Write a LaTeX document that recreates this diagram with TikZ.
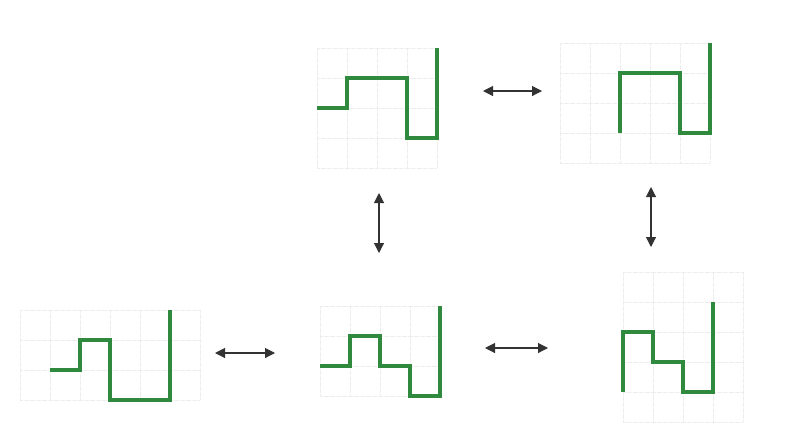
\documentclass[tikz,border=0pt]{standalone}
\usepackage{tikz}
\usetikzlibrary{arrows.meta}
\definecolor{walkgreen}{RGB}{48,138,62}

\begin{document}
\begin{tikzpicture}[x=1pt,y=-1pt,
  walk/.style={walkgreen,line width=4pt,line join=miter,line cap=butt},
  faintgrid/.style={gray!14,very thin,densely dotted},
  swapline/.style={{Triangle[width=10pt,length=10pt]}-{Triangle[width=10pt,length=10pt]},line width=1.1pt,black!80}]
  \useasboundingbox (0,0) rectangle (792,432);

  % Top middle walk
  \begin{scope}[shift={(317,108)},x=30pt,y=-30pt]
    \foreach \gx in {0,...,4} \draw[faintgrid] (\gx,-2) -- (\gx,2);
    \foreach \gy in {-2,...,2} \draw[faintgrid] (0,\gy) -- (4,\gy);
    \draw[walk] (0,0) -- ++(1,0) -- ++(0,-1) -- ++(2,0) -- ++(0,2) -- ++(1,0) -- ++(0,-3);
  \end{scope}

  % Top right walk
  \begin{scope}[shift={(620,133)},x=30pt,y=-30pt]
    \foreach \gx in {-2,...,3} \draw[faintgrid] (\gx,-3) -- (\gx,1);
    \foreach \gy in {-3,...,1} \draw[faintgrid] (-2,\gy) -- (3,\gy);
    \draw[walk] (0,0) -- ++(0,-2) -- ++(2,0) -- ++(0,2) -- ++(1,0) -- ++(0,-3);
  \end{scope}

  % Bottom left walk
  \begin{scope}[shift={(50,370)},x=30pt,y=-30pt]
    \foreach \gx in {-1,...,5} \draw[faintgrid] (\gx,-2) -- (\gx,1);
    \foreach \gy in {-2,...,1} \draw[faintgrid] (-1,\gy) -- (5,\gy);
    \draw[walk] (0,0) -- ++(1,0) -- ++(0,-1) -- ++(1,0) -- ++(0,2) -- ++(2,0) -- ++(0,-3);
  \end{scope}

  % Bottom middle walk
  \begin{scope}[shift={(320,366)},x=30pt,y=-30pt]
    \foreach \gx in {0,...,4} \draw[faintgrid] (\gx,-2) -- (\gx,1);
    \foreach \gy in {-2,...,1} \draw[faintgrid] (0,\gy) -- (4,\gy);
    \draw[walk] (0,0) -- ++(1,0) -- ++(0,-1) -- ++(1,0) -- ++(0,1) -- ++(1,0) -- ++(0,1) -- ++(1,0) -- ++(0,-3);
  \end{scope}

  % Bottom right walk
  \begin{scope}[shift={(623,392)},x=30pt,y=-30pt]
    \foreach \gx in {0,...,4} \draw[faintgrid] (\gx,-4) -- (\gx,1);
    \foreach \gy in {-4,...,1} \draw[faintgrid] (0,\gy) -- (4,\gy);
    \draw[walk] (0,0) -- ++(0,-2) -- ++(1,0) -- ++(0,1) -- ++(1,0) -- ++(0,1) -- ++(1,0) -- ++(0,-3);
  \end{scope}

  % Arrow end points
  \coordinate (tl) at (483,91);
  \coordinate (tr) at (542,91);
  \coordinate (vlt) at (379,193);
  \coordinate (vlb) at (379,253);
  \coordinate (vrt) at (651,187);
  \coordinate (vrb) at (651,247);
  \coordinate (bll) at (215,353);
  \coordinate (blr) at (275,353);
  \coordinate (brl) at (485,348);
  \coordinate (brr) at (548,348);

  \draw[swapline] (tl) -- (tr);
  \draw[swapline] (vlt) -- (vlb);
  \draw[swapline] (vrt) -- (vrb);
  \draw[swapline] (bll) -- (blr);
  \draw[swapline] (brl) -- (brr);
\end{tikzpicture}
\end{document}
